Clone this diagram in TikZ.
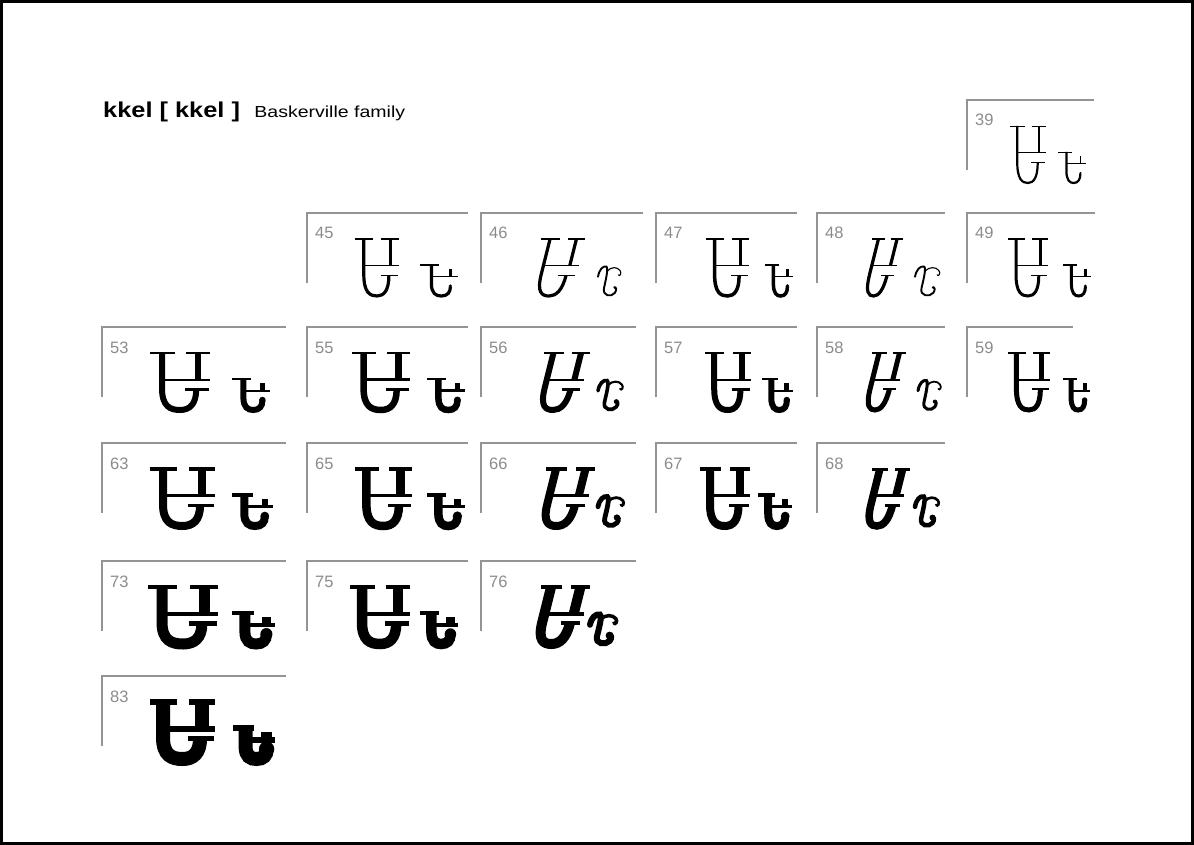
\documentclass[tikz,border=0pt]{standalone}
\usepackage{fontspec}
\setmainfont{Liberation Sans}
\newfontfamily\titlefont[FakeStretch=1.18]{Liberation Sans}
\newfontfamily\familyfont[FakeStretch=1.22]{Liberation Sans}
\usetikzlibrary{positioning}

\begin{document}
\begin{tikzpicture}[x=1pt, y=-1pt,
    cellline/.style={draw=black!42, line width=2pt},
    cellnum/.style={anchor=base west, inner sep=0pt, text=black!45, font=\fontsize{16.5}{16.5}\selectfont},
    stem/.style={line width=#1, line cap=butt},
    hair/.style={line width=#1, line cap=butt}
]
    \useasboundingbox (0,0) rectangle (1194,845);
    \draw [line width=2.4pt] (1.5,1.5) rectangle (1192.5,843.5); % Frame

    % Heading
    \node [anchor=base west, inner sep=0pt, font=\titlefont\bfseries\fontsize{21.5}{21.5}\selectfont] (title) at (103,118) {kkel [ kkel ]};
    \node [right=14pt of title.base east, anchor=base west, inner sep=0pt, font=\familyfont\fontsize{16}{16}\selectfont] (family) {Baskerville family};

    % Cells: number/x/top/line/glyph x/glyph w/small x/small w/weight/italic
    \foreach \n/\cx/\cy/\cw/\bx/\bw/\sx/\sw/\t/\it in {
        39/967/100/127/1010/36/1058/28/2.2/0,
        45/307/213/161/355/44/420/38/3.2/0, 46/481/213/162/527/44/598/24/3.2/1,
        47/656/213/141/706/43/765/28/3.5/0, 48/817/213/128/858/31/915/26/3.2/1,
        49/967/213/128/1008/40/1063/28/3.0/0,
        53/102/327/184/150/60/232/38/6/0, 55/307/327/161/352/58/427/38/6.5/0,
        56/481/327/155/530/46/598/26/6/1, 57/656/327/141/705/46/762/31/6/0,
        58/817/327/128/858/34/918/24/5/1, 59/967/327/106/1008/42/1063/27/5/0,
        63/102/443/184/150/65/232/41/8/0, 65/307/443/161/355/57/427/38/8.5/0,
        66/481/443/155/532/49/598/27/8/1, 67/656/443/141/700/50/758/34/8/0,
        68/817/443/128/858/38/915/25/7.5/1,
        73/102/561/184/148/70/232/43/11/0, 75/307/561/161/350/60/420/38/10.5/0,
        76/481/561/155/527/49/590/28/10/1,
        83/102/676/184/150/65/233/42/14/0} {
        \draw [cellline] (\cx,\cy+70) -- (\cx,\cy) -- ++(\cw,0);
        \node [cellnum] (n\n) at (\cx+8,\cy+26) {\n};
        \pgfmathsetmacro\tb{0.4*\t}
        % big glyph
        \begin{scope}[shift={(\bx,\cy+83)}, x=\bw pt, y=57pt, xslant=0.25*\it]
            \draw [stem=\t pt] (0.2,1) -- (0.2,0.38) .. controls (0.2,0.06) and (0.34,0) .. (0.5,0) .. controls (0.66,0) and (0.77,0.1) .. (0.77,0.36);
            \draw [stem=\t pt] (0.8,1) -- (0.8,0.53);
            \draw [hair=\tb pt] (0,1) -- (0.42,1) (0.6,1) -- (1,1) (0.2,0.53) -- (1,0.53) (0.58,0.36) -- (0.98,0.36);
        \end{scope}
        % small glyph
        \ifnum\it=0
        \begin{scope}[shift={(\sx,\cy+83)}, x=\sw pt, y=31pt]
            \draw [stem=\t pt] (0.3,1) -- (0.3,0.4) .. controls (0.3,0.08) and (0.42,0) .. (0.56,0) .. controls (0.72,0) and (0.8,0.12) .. (0.8,0.3);
            \fill (0.8,0.32) circle [radius=0.55*\t pt];
            \draw [hair=\tb pt] (0,1) -- (0.5,1) (0.3,0.62) -- (1,0.62);
            \draw [stem=0.8*\t pt] (0.8,0.62) -- (0.8,0.86);
        \end{scope}
        \else
        \begin{scope}[shift={(\sx,\cy+83)}, x=\sw pt, y=31pt]
            \draw [stem=0.6*\t pt, line cap=round] (0.0,0.62) .. controls (0.05,0.85) and (0.2,0.98) .. (0.35,0.95) .. controls (0.45,0.9) and (0.3,0.45) .. (0.25,0.25) .. controls (0.18,0.0) and (0.55,-0.05) .. (0.7,0.1) .. controls (0.8,0.2) and (0.75,0.3) .. (0.68,0.28);
            \draw [hair=0.35*\t pt, line cap=round] (0.38,0.8) .. controls (0.55,0.95) and (0.8,0.95) .. (0.92,0.82) .. controls (1.0,0.72) and (0.9,0.62) .. (0.85,0.68);
            \fill (0.7,0.27) circle [radius=0.4*\t pt];
        \end{scope}
        \fi
    }
\end{tikzpicture}
\end{document}
